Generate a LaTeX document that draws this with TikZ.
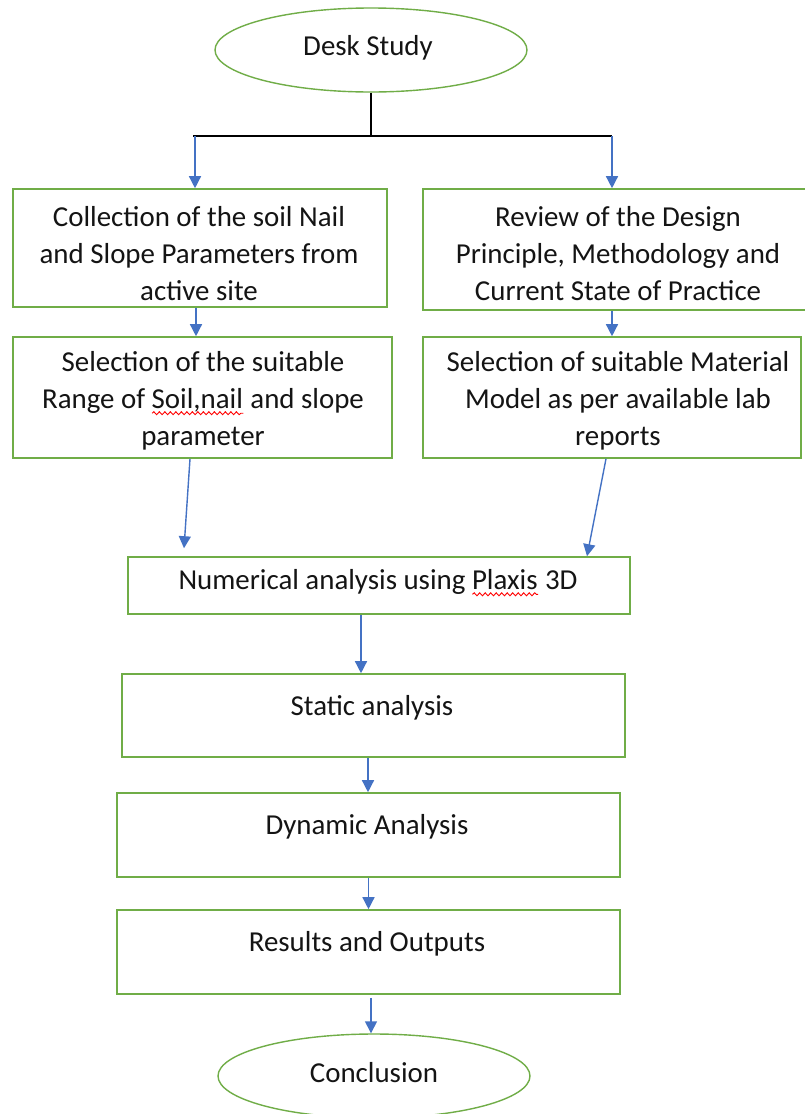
\documentclass[tikz,border=0pt]{standalone}
\usepackage{fontspec}
\setmainfont{Carlito}
\usetikzlibrary{arrows.meta,shapes.geometric,decorations.pathmorphing}
\newsavebox\wavebox
\newcommand\redwave[1]{\sbox\wavebox{#1}\rlap{\usebox\wavebox}\tikz[x=1pt,y=1pt,baseline=0pt]\draw[red, line width=0.9pt, decorate, decoration={snake,amplitude=1.5pt,segment length=5.5pt}] (0,-4.5) -- (\wd\wavebox,-4.5);}
\definecolor{boxgreen}{RGB}{112,173,71}
\definecolor{arrblue}{RGB}{68,114,196}
\begin{document}
\begin{tikzpicture}[x=1pt,y=-1pt,
  box/.style={draw=boxgreen, line width=1.6pt, inner sep=0pt, rectangle},
  oval/.style={draw=boxgreen, line width=1.4pt, ellipse, inner sep=0pt},
  txt/.style={font=\fontsize{28.9}{37}\selectfont, align=center, inner sep=0pt, text=black!92},
  arr/.style={draw=arrblue, line width=1.4pt, -{Triangle[length=12pt,width=12pt]}},
  ln/.style={draw=black, line width=1.4pt}]
\useasboundingbox[fill=white] (0,0) rectangle (804,1114);
% shapes
\node[oval, minimum width=312pt, minimum height=84pt] (desk) at (371,50) {};
\node[box, minimum width=374pt, minimum height=118pt] (b1) at (200,248) {};
\node[box, minimum width=385pt, minimum height=121pt] (b2) at (615.5,249.5) {};
\node[box, minimum width=379pt, minimum height=121pt] (b3) at (202.5,397.5) {};
\node[box, minimum width=378pt, minimum height=121pt] (b4) at (612,397.5) {};
\node[box, minimum width=502pt, minimum height=57pt] (b5) at (379,585.5) {};
\node[box, minimum width=503pt, minimum height=83pt] (b6) at (373.5,715.5) {};
\node[box, minimum width=503pt, minimum height=84pt] (b7) at (368.5,835) {};
\node[box, minimum width=503pt, minimum height=84pt] (b8) at (368.5,952) {};
\node[oval, minimum width=312pt, minimum height=84pt] (concl) at (374,1076) {};
% texts
\node[txt] (tdesk) at (368,48) {Desk Study};
\node[txt] (t1) at (199,253.5) {Collection of the soil Nail\\and Slope Parameters from\\active site};
\node[txt] (t2) at (618,253.5) {Review of the Design\\Principle, Methodology and\\Current State of Practice};
\node[txt] (t3) at (203,401) {Selection of the suitable\\Range of \redwave{Soil,nail} and slope\\parameter};
\node[txt] (t4) at (618,401) {Selection of suitable Material\\Model as per available lab\\reports};
\node[txt] (t5) at (378,583) {Numerical analysis using \redwave{Plaxis} 3D};
\node[txt] (t6) at (372,708) {Static analysis};
\node[txt] (t7) at (367,827) {Dynamic Analysis};
\node[txt] (t8) at (367,944) {Results and Outputs};
\node[txt] (tconcl) at (374,1073) {Conclusion};
% connectors
\coordinate (j) at (371,136);
\coordinate (jl) at (195,136);
\coordinate (jr) at (612,136);
\draw[ln] (desk.south) -- (j);
\draw[ln] ([xshift=-2pt]jl) -- (jr);
\draw[arr] (jl) -- (jl |- b1.north);
\draw[arr] (jr) -- (jr |- b2.north);
\draw[arr] ([xshift=-4pt]b1.south) -- ([xshift=-4pt]b1.south |- b3.north);
\draw[arr] (b2.south -| jr) -- (b4.north -| jr);
\draw[arr] ([xshift=-12.5pt]b3.south) -- ([xshift=-195pt,yshift=8pt]b5.north);
\draw[arr] ([xshift=-6pt]b4.south) -- ([xshift=208pt]b5.north);
\draw[arr] ([xshift=-18pt]b5.south) -- ([xshift=-18pt]b5.south |- b6.north);
\draw[arr] ([xshift=-5.5pt]b6.south) -- ([xshift=-5.5pt]b6.south |- b7.north);
\draw[arr] (b7.south) -- (b8.north);
\draw[arr] ([xshift=2.5pt,yshift=-3pt]b8.south) -- ([xshift=2.5pt]b8.south |- concl.north);
\end{tikzpicture}
\end{document}
